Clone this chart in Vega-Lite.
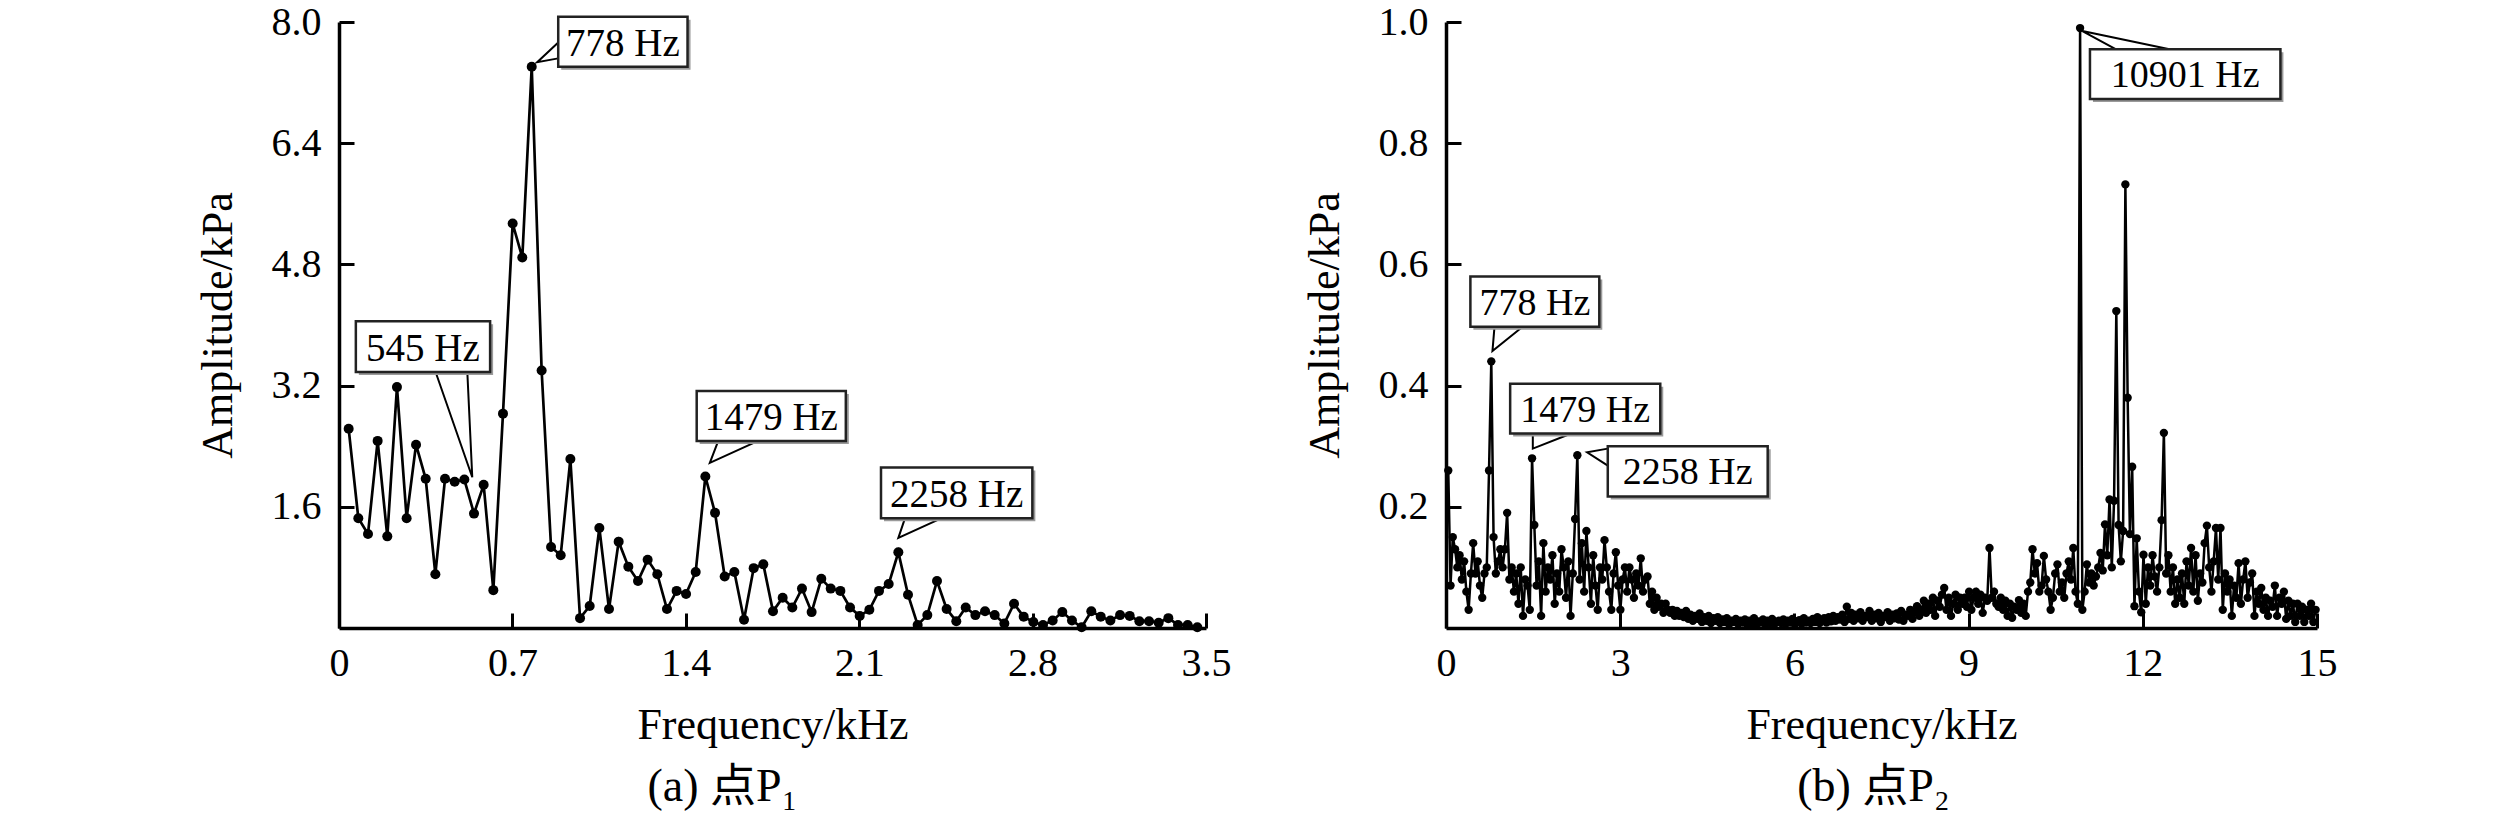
{
  "$schema": "https://vega.github.io/schema/vega-lite/v6.json",
  "padding": {"left": 196, "top": 2, "right": 5, "bottom": 5},
  "background": "white",
  "bounds": "flush",
  "spacing": 240,
  "config": {
    "view": {"stroke": null},
    "font": "Liberation Serif",
    "axis": {
      "grid": false,
      "domainColor": "black",
      "domainWidth": 3.5,
      "tickColor": "black",
      "tickWidth": 3,
      "tickSize": -15,
      "labelFont": "Liberation Serif",
      "labelFontSize": 40,
      "labelColor": "black",
      "labelFlush": false,
      "labelOverlap": false,
      "titleFont": "Liberation Serif",
      "titleFontSize": 44,
      "titleFontWeight": "normal",
      "titleColor": "black"
    },
    "axisX": {"labelPadding": 30, "titlePadding": 20},
    "axisY": {"labelPadding": 33, "titlePadding": 31},
    "title": {"font": "Liberation Serif, Noto Sans CJK SC", "fontSize": 46, "fontWeight": "normal", "color": "black"}
  },
  "datasets": {
    "a": [
      {"f":0.039,"a":2.63},{"f":0.078,"a":1.45},{"f":0.117,"a":1.24},{"f":0.156,"a":2.47},{"f":0.195,"a":1.21},
      {"f":0.234,"a":3.18},{"f":0.273,"a":1.45},{"f":0.311,"a":2.42},{"f":0.350,"a":1.97},{"f":0.389,"a":0.71},
      {"f":0.428,"a":1.97},{"f":0.467,"a":1.93},{"f":0.506,"a":1.96},{"f":0.545,"a":1.51},{"f":0.584,"a":1.89},
      {"f":0.623,"a":0.50},{"f":0.662,"a":2.83},{"f":0.701,"a":5.34},{"f":0.740,"a":4.89},{"f":0.778,"a":7.41},
      {"f":0.818,"a":3.40},{"f":0.856,"a":1.07},{"f":0.895,"a":0.96},{"f":0.934,"a":2.23},{"f":0.973,"a":0.13},
      {"f":1.012,"a":0.29},{"f":1.051,"a":1.32},{"f":1.090,"a":0.25},{"f":1.129,"a":1.14},{"f":1.168,"a":0.81},
      {"f":1.207,"a":0.62},{"f":1.246,"a":0.90},{"f":1.285,"a":0.71},{"f":1.324,"a":0.25},{"f":1.363,"a":0.49},
      {"f":1.401,"a":0.45},{"f":1.440,"a":0.74},{"f":1.479,"a":2.00},{"f":1.518,"a":1.52},{"f":1.557,"a":0.68},
      {"f":1.596,"a":0.74},{"f":1.635,"a":0.11},{"f":1.674,"a":0.79},{"f":1.713,"a":0.84},{"f":1.752,"a":0.22},
      {"f":1.791,"a":0.40},{"f":1.830,"a":0.27},{"f":1.869,"a":0.52},{"f":1.908,"a":0.21},{"f":1.947,"a":0.65},
      {"f":1.985,"a":0.52},{"f":2.024,"a":0.49},{"f":2.063,"a":0.27},{"f":2.102,"a":0.16},{"f":2.141,"a":0.24},
      {"f":2.180,"a":0.49},{"f":2.219,"a":0.58},{"f":2.258,"a":1.00},{"f":2.297,"a":0.44},{"f":2.336,"a":0.04},
      {"f":2.375,"a":0.17},{"f":2.414,"a":0.62},{"f":2.453,"a":0.25},{"f":2.492,"a":0.09},{"f":2.530,"a":0.27},
      {"f":2.569,"a":0.17},{"f":2.608,"a":0.22},{"f":2.647,"a":0.17},{"f":2.686,"a":0.06},{"f":2.725,"a":0.32},
      {"f":2.764,"a":0.15},{"f":2.803,"a":0.08},{"f":2.842,"a":0.04},{"f":2.881,"a":0.10},{"f":2.920,"a":0.21},
      {"f":2.959,"a":0.10},{"f":2.998,"a":0.01},{"f":3.037,"a":0.22},{"f":3.075,"a":0.15},{"f":3.114,"a":0.10},
      {"f":3.153,"a":0.17},{"f":3.192,"a":0.16},{"f":3.231,"a":0.09},{"f":3.270,"a":0.09},{"f":3.309,"a":0.07},
      {"f":3.348,"a":0.13},{"f":3.387,"a":0.04},{"f":3.426,"a":0.04},{"f":3.465,"a":0.01}
    ],
    "b": [
      {"f":0.039,"a":0.26},{"f":0.078,"a":0.07},{"f":0.117,"a":0.15},{"f":0.156,"a":0.13},{"f":0.195,"a":0.10},
      {"f":0.234,"a":0.12},{"f":0.273,"a":0.08},{"f":0.312,"a":0.11},{"f":0.351,"a":0.06},{"f":0.39,"a":0.03},
      {"f":0.429,"a":0.09},{"f":0.468,"a":0.14},{"f":0.507,"a":0.09},{"f":0.546,"a":0.11},{"f":0.585,"a":0.07},
      {"f":0.624,"a":0.05},{"f":0.663,"a":0.09},{"f":0.702,"a":0.10},{"f":0.741,"a":0.26},{"f":0.78,"a":0.44},
      {"f":0.819,"a":0.15},{"f":0.858,"a":0.09},{"f":0.897,"a":0.11},{"f":0.936,"a":0.13},{"f":0.975,"a":0.10},
      {"f":1.014,"a":0.13},{"f":1.053,"a":0.19},{"f":1.092,"a":0.08},{"f":1.131,"a":0.10},{"f":1.17,"a":0.06},
      {"f":1.209,"a":0.09},{"f":1.248,"a":0.04},{"f":1.287,"a":0.10},{"f":1.326,"a":0.02},{"f":1.365,"a":0.08},
      {"f":1.404,"a":0.07},{"f":1.443,"a":0.03},{"f":1.482,"a":0.28},{"f":1.521,"a":0.17},{"f":1.56,"a":0.07},
      {"f":1.599,"a":0.11},{"f":1.638,"a":0.02},{"f":1.677,"a":0.14},{"f":1.716,"a":0.06},{"f":1.755,"a":0.10},
      {"f":1.794,"a":0.08},{"f":1.833,"a":0.12},{"f":1.872,"a":0.04},{"f":1.911,"a":0.09},{"f":1.95,"a":0.06},
      {"f":1.989,"a":0.13},{"f":2.028,"a":0.10},{"f":2.067,"a":0.05},{"f":2.106,"a":0.11},{"f":2.145,"a":0.02},
      {"f":2.184,"a":0.09},{"f":2.223,"a":0.18},{"f":2.262,"a":0.285},{"f":2.301,"a":0.08},{"f":2.34,"a":0.14},
      {"f":2.379,"a":0.06},{"f":2.418,"a":0.16},{"f":2.457,"a":0.10},{"f":2.496,"a":0.04},{"f":2.535,"a":0.12},
      {"f":2.574,"a":0.07},{"f":2.613,"a":0.03},{"f":2.652,"a":0.10},{"f":2.691,"a":0.08},{"f":2.73,"a":0.145},
      {"f":2.769,"a":0.10},{"f":2.808,"a":0.06},{"f":2.847,"a":0.03},{"f":2.886,"a":0.09},{"f":2.925,"a":0.125},
      {"f":2.964,"a":0.07},{"f":3.003,"a":0.03},{"f":3.042,"a":0.08},{"f":3.081,"a":0.10},{"f":3.12,"a":0.06},
      {"f":3.159,"a":0.10},{"f":3.198,"a":0.08},{"f":3.237,"a":0.05},{"f":3.276,"a":0.09},{"f":3.315,"a":0.07},
      {"f":3.354,"a":0.115},{"f":3.393,"a":0.06},{"f":3.432,"a":0.08},{"f":3.471,"a":0.085},{"f":3.51,"a":0.04},
      {"f":3.549,"a":0.06},{"f":3.588,"a":0.03},{"f":3.627,"a":0.05},{"f":3.666,"a":0.035},{"f":3.705,"a":0.04},
      {"f":3.744,"a":0.025},{"f":3.783,"a":0.04},{"f":3.822,"a":0.03},{"f":3.861,"a":0.025},{"f":3.9,"a":0.03},
      {"f":3.939,"a":0.02},{"f":3.978,"a":0.028},{"f":4.017,"a":0.02},{"f":4.056,"a":0.025},{"f":4.095,"a":0.018},
      {"f":4.134,"a":0.028},{"f":4.173,"a":0.015},{"f":4.212,"a":0.022},{"f":4.251,"a":0.012},{"f":4.29,"a":0.02},
      {"f":4.329,"a":0.015},{"f":4.368,"a":0.024},{"f":4.407,"a":0.01},{"f":4.446,"a":0.018},{"f":4.485,"a":0.012},
      {"f":4.524,"a":0.02},{"f":4.563,"a":0.008},{"f":4.602,"a":0.016},{"f":4.641,"a":0.012},{"f":4.68,"a":0.018},
      {"f":4.719,"a":0.008},{"f":4.758,"a":0.014},{"f":4.797,"a":0.01},{"f":4.836,"a":0.016},{"f":4.875,"a":0.006},
      {"f":4.914,"a":0.012},{"f":4.953,"a":0.01},{"f":4.992,"a":0.015},{"f":5.031,"a":0.007},{"f":5.07,"a":0.012},
      {"f":5.109,"a":0.009},{"f":5.148,"a":0.014},{"f":5.187,"a":0.006},{"f":5.226,"a":0.012},{"f":5.265,"a":0.008},
      {"f":5.304,"a":0.016},{"f":5.343,"a":0.005},{"f":5.382,"a":0.011},{"f":5.421,"a":0.009},{"f":5.46,"a":0.014},
      {"f":5.499,"a":0.006},{"f":5.538,"a":0.012},{"f":5.577,"a":0.008},{"f":5.616,"a":0.015},{"f":5.655,"a":0.006},
      {"f":5.694,"a":0.01},{"f":5.733,"a":0.012},{"f":5.772,"a":0.008},{"f":5.811,"a":0.014},{"f":5.85,"a":0.007},
      {"f":5.889,"a":0.012},{"f":5.928,"a":0.009},{"f":5.967,"a":0.015},{"f":6.006,"a":0.006},{"f":6.045,"a":0.011},
      {"f":6.084,"a":0.013},{"f":6.123,"a":0.007},{"f":6.162,"a":0.016},{"f":6.201,"a":0.009},{"f":6.24,"a":0.012},
      {"f":6.279,"a":0.008},{"f":6.318,"a":0.015},{"f":6.357,"a":0.01},{"f":6.396,"a":0.018},{"f":6.435,"a":0.008},
      {"f":6.474,"a":0.013},{"f":6.513,"a":0.016},{"f":6.552,"a":0.009},{"f":6.591,"a":0.018},{"f":6.63,"a":0.011},
      {"f":6.669,"a":0.02},{"f":6.708,"a":0.012},{"f":6.747,"a":0.018},{"f":6.786,"a":0.014},{"f":6.825,"a":0.022},
      {"f":6.864,"a":0.01},{"f":6.903,"a":0.035},{"f":6.942,"a":0.015},{"f":6.981,"a":0.025},{"f":7.02,"a":0.012},
      {"f":7.059,"a":0.022},{"f":7.098,"a":0.016},{"f":7.137,"a":0.026},{"f":7.176,"a":0.012},{"f":7.215,"a":0.02},
      {"f":7.254,"a":0.018},{"f":7.293,"a":0.028},{"f":7.332,"a":0.012},{"f":7.371,"a":0.022},{"f":7.41,"a":0.016},
      {"f":7.449,"a":0.025},{"f":7.488,"a":0.01},{"f":7.527,"a":0.02},{"f":7.566,"a":0.018},{"f":7.605,"a":0.026},
      {"f":7.644,"a":0.012},{"f":7.683,"a":0.022},{"f":7.722,"a":0.016},{"f":7.761,"a":0.024},{"f":7.8,"a":0.014},
      {"f":7.839,"a":0.028},{"f":7.878,"a":0.012},{"f":7.917,"a":0.022},{"f":7.956,"a":0.02},{"f":7.995,"a":0.03},
      {"f":8.034,"a":0.015},{"f":8.073,"a":0.026},{"f":8.112,"a":0.036},{"f":8.151,"a":0.02},{"f":8.19,"a":0.03},
      {"f":8.229,"a":0.045},{"f":8.268,"a":0.025},{"f":8.307,"a":0.04},{"f":8.346,"a":0.03},{"f":8.385,"a":0.05},
      {"f":8.424,"a":0.02},{"f":8.463,"a":0.045},{"f":8.502,"a":0.035},{"f":8.541,"a":0.055},{"f":8.58,"a":0.066},
      {"f":8.619,"a":0.03},{"f":8.658,"a":0.05},{"f":8.697,"a":0.02},{"f":8.736,"a":0.04},{"f":8.775,"a":0.055},
      {"f":8.814,"a":0.03},{"f":8.853,"a":0.05},{"f":8.892,"a":0.04},{"f":8.931,"a":0.05},{"f":8.97,"a":0.035},
      {"f":9.009,"a":0.06},{"f":9.048,"a":0.03},{"f":9.087,"a":0.05},{"f":9.126,"a":0.06},{"f":9.165,"a":0.04},
      {"f":9.204,"a":0.055},{"f":9.243,"a":0.025},{"f":9.282,"a":0.05},{"f":9.321,"a":0.045},{"f":9.36,"a":0.132},
      {"f":9.399,"a":0.05},{"f":9.438,"a":0.06},{"f":9.477,"a":0.04},{"f":9.516,"a":0.035},{"f":9.555,"a":0.05},
      {"f":9.594,"a":0.03},{"f":9.633,"a":0.045},{"f":9.672,"a":0.02},{"f":9.711,"a":0.04},{"f":9.75,"a":0.017},
      {"f":9.789,"a":0.035},{"f":9.828,"a":0.03},{"f":9.867,"a":0.046},{"f":9.906,"a":0.025},{"f":9.945,"a":0.04},
      {"f":9.984,"a":0.02},{"f":10.023,"a":0.06},{"f":10.062,"a":0.075},{"f":10.101,"a":0.13},{"f":10.14,"a":0.09},
      {"f":10.179,"a":0.107},{"f":10.218,"a":0.06},{"f":10.257,"a":0.07},{"f":10.296,"a":0.119},{"f":10.335,"a":0.08},
      {"f":10.374,"a":0.06},{"f":10.413,"a":0.03},{"f":10.452,"a":0.05},{"f":10.491,"a":0.09},{"f":10.53,"a":0.105},
      {"f":10.569,"a":0.06},{"f":10.608,"a":0.075},{"f":10.647,"a":0.05},{"f":10.686,"a":0.09},{"f":10.725,"a":0.11},
      {"f":10.764,"a":0.08},{"f":10.803,"a":0.132},{"f":10.842,"a":0.06},{"f":10.881,"a":0.04},{"f":10.92,"a":0.99},
      {"f":10.959,"a":0.03},{"f":10.998,"a":0.06},{"f":11.037,"a":0.105},{"f":11.076,"a":0.075},{"f":11.115,"a":0.09},
      {"f":11.154,"a":0.07},{"f":11.193,"a":0.085},{"f":11.232,"a":0.10},{"f":11.271,"a":0.124},{"f":11.31,"a":0.095},
      {"f":11.349,"a":0.171},{"f":11.388,"a":0.12},{"f":11.427,"a":0.212},{"f":11.466,"a":0.10},{"f":11.505,"a":0.21},
      {"f":11.544,"a":0.523},{"f":11.583,"a":0.17},{"f":11.622,"a":0.11},{"f":11.661,"a":0.16},{"f":11.7,"a":0.732},
      {"f":11.739,"a":0.38},{"f":11.778,"a":0.155},{"f":11.817,"a":0.266},{"f":11.856,"a":0.036},{"f":11.895,"a":0.148},
      {"f":11.934,"a":0.06},{"f":11.973,"a":0.026},{"f":12.012,"a":0.121},{"f":12.051,"a":0.04},{"f":12.09,"a":0.10},
      {"f":12.129,"a":0.07},{"f":12.168,"a":0.12},{"f":12.207,"a":0.085},{"f":12.246,"a":0.06},{"f":12.285,"a":0.10},
      {"f":12.324,"a":0.178},{"f":12.363,"a":0.322},{"f":12.402,"a":0.09},{"f":12.441,"a":0.12},{"f":12.48,"a":0.06},
      {"f":12.519,"a":0.10},{"f":12.558,"a":0.04},{"f":12.597,"a":0.08},{"f":12.636,"a":0.05},{"f":12.675,"a":0.09},
      {"f":12.714,"a":0.04},{"f":12.753,"a":0.11},{"f":12.792,"a":0.07},{"f":12.831,"a":0.132},{"f":12.87,"a":0.06},
      {"f":12.909,"a":0.12},{"f":12.948,"a":0.045},{"f":12.987,"a":0.09},{"f":13.026,"a":0.075},{"f":13.065,"a":0.14},
      {"f":13.104,"a":0.169},{"f":13.143,"a":0.10},{"f":13.182,"a":0.06},{"f":13.221,"a":0.11},{"f":13.26,"a":0.165},
      {"f":13.299,"a":0.08},{"f":13.338,"a":0.165},{"f":13.377,"a":0.03},{"f":13.416,"a":0.09},{"f":13.455,"a":0.06},
      {"f":13.494,"a":0.08},{"f":13.533,"a":0.02},{"f":13.572,"a":0.07},{"f":13.611,"a":0.05},{"f":13.65,"a":0.107},
      {"f":13.689,"a":0.04},{"f":13.728,"a":0.08},{"f":13.767,"a":0.11},{"f":13.806,"a":0.05},{"f":13.845,"a":0.075},
      {"f":13.884,"a":0.09},{"f":13.923,"a":0.02},{"f":13.962,"a":0.06},{"f":14.001,"a":0.04},{"f":14.04,"a":0.066},
      {"f":14.079,"a":0.03},{"f":14.118,"a":0.05},{"f":14.157,"a":0.02},{"f":14.196,"a":0.045},{"f":14.235,"a":0.035},
      {"f":14.274,"a":0.07},{"f":14.313,"a":0.02},{"f":14.352,"a":0.05},{"f":14.391,"a":0.04},{"f":14.43,"a":0.06},
      {"f":14.469,"a":0.015},{"f":14.508,"a":0.045},{"f":14.547,"a":0.02},{"f":14.586,"a":0.04},{"f":14.625,"a":0.01},
      {"f":14.664,"a":0.04},{"f":14.703,"a":0.02},{"f":14.742,"a":0.035},{"f":14.781,"a":0.01},{"f":14.82,"a":0.03},
      {"f":14.859,"a":0.02},{"f":14.898,"a":0.04},{"f":14.937,"a":0.01},{"f":14.976,"a":0.03}
    ],
    "boxA": [
      {"x1":0.885,"x2":1.407,"y1":7.41,"y2":8.07,"tx":1.146,"ty":7.74,"label":"778 Hz"},
      {"x1":0.068,"x2":0.61,"y1":3.38,"y2":4.05,"tx":0.339,"ty":3.715,"label":"545 Hz"},
      {"x1":1.444,"x2":2.046,"y1":2.47,"y2":3.13,"tx":1.745,"ty":2.8,"label":"1479 Hz"},
      {"x1":2.188,"x2":2.799,"y1":1.45,"y2":2.12,"tx":2.4935,"ty":1.785,"label":"2258 Hz"}
    ],
    "tailA": [
      {"g":"778","o":1,"x":0.885,"y":7.73},{"g":"778","o":2,"x":0.8,"y":7.47},{"g":"778","o":3,"x":0.885,"y":7.52},
      {"g":"545","o":1,"x":0.39,"y":3.38},{"g":"545","o":2,"x":0.538,"y":1.99},{"g":"545","o":3,"x":0.518,"y":3.38},
      {"g":"1479","o":1,"x":1.531,"y":2.47},{"g":"1479","o":2,"x":1.497,"y":2.18},{"g":"1479","o":3,"x":1.692,"y":2.47},
      {"g":"2258","o":1,"x":2.285,"y":1.45},{"g":"2258","o":2,"x":2.258,"y":1.19},{"g":"2258","o":3,"x":2.433,"y":1.45}
    ],
    "boxB": [
      {"x1":0.42,"x2":2.64,"y1":0.497,"y2":0.58,"tx":1.53,"ty":0.5385,"label":"778 Hz"},
      {"x1":1.105,"x2":3.69,"y1":0.321,"y2":0.403,"tx":2.3975,"ty":0.362,"label":"1479 Hz"},
      {"x1":2.786,"x2":5.54,"y1":0.217,"y2":0.3,"tx":4.163,"ty":0.2585,"label":"2258 Hz"},
      {"x1":11.09,"x2":14.37,"y1":0.873,"y2":0.955,"tx":12.73,"ty":0.914,"label":"10901 Hz"}
    ],
    "tailB": [
      {"g":"778","o":1,"x":0.835,"y":0.497},{"g":"778","o":2,"x":0.8,"y":0.457},{"g":"778","o":3,"x":1.32,"y":0.497},
      {"g":"1479","o":1,"x":1.495,"y":0.321},{"g":"1479","o":2,"x":1.495,"y":0.296},{"g":"1479","o":3,"x":2.156,"y":0.321},
      {"g":"2258","o":1,"x":2.786,"y":0.296},{"g":"2258","o":2,"x":2.43,"y":0.29},{"g":"2258","o":3,"x":2.786,"y":0.268},
      {"g":"10901","o":1,"x":11.54,"y":0.955},{"g":"10901","o":2,"x":10.96,"y":0.985},{"g":"10901","o":3,"x":12.46,"y":0.955}
    ]
  },
  "hconcat": [
    {
      "width": 867,
      "height": 606,
      "title": {"text": "(a) 点P₁", "orient": "bottom", "offset": 18, "dx": -50},
      "layer": [
        {
          "data": {"name": "a"},
          "mark": {"type": "line", "color": "black", "strokeWidth": 2.7, "point": {"filled": true, "size": 100, "color": "black"}},
          "encoding": {
            "x": {"field": "f", "type": "quantitative", "title": "Frequency/kHz", "scale": {"domain": [0, 3.5], "nice": false}, "axis": {"values": [0, 0.7, 1.4, 2.1, 2.8, 3.5], "format": ".1~f"}},
            "y": {"field": "a", "type": "quantitative", "title": "Amplitude/kPa", "scale": {"domain": [0, 8], "nice": false}, "axis": {"values": [1.6, 3.2, 4.8, 6.4, 8.0], "format": ".1f"}}
          }
        },
        {
          "data": {"name": "tailA"},
          "mark": {"type": "line", "color": "black", "strokeWidth": 2},
          "encoding": {
            "x": {"field": "x", "type": "quantitative", "scale": {"domain": [0, 3.5], "nice": false}},
            "y": {"field": "y", "type": "quantitative", "scale": {"domain": [0, 8], "nice": false}},
            "detail": {"field": "g"},
            "order": {"field": "o"}
          }
        },
        {
          "data": {"name": "boxA"},
          "mark": {"type": "rect", "fill": "#9a9a9a", "xOffset": 3, "x2Offset": 3, "yOffset": 3, "y2Offset": 3},
          "encoding": {
            "x": {"field": "x1", "type": "quantitative", "scale": {"domain": [0, 3.5], "nice": false}},
            "x2": {"field": "x2"},
            "y": {"field": "y1", "type": "quantitative", "scale": {"domain": [0, 8], "nice": false}},
            "y2": {"field": "y2"}
          }
        },
        {
          "data": {"name": "boxA"},
          "mark": {"type": "rect", "fill": "white", "stroke": "#222222", "strokeWidth": 2.5},
          "encoding": {
            "x": {"field": "x1", "type": "quantitative", "scale": {"domain": [0, 3.5], "nice": false}},
            "x2": {"field": "x2"},
            "y": {"field": "y1", "type": "quantitative", "scale": {"domain": [0, 8], "nice": false}},
            "y2": {"field": "y2"}
          }
        },
        {
          "data": {"name": "boxA"},
          "mark": {"type": "text", "font": "Liberation Serif", "fontSize": 39, "color": "black", "baseline": "middle", "align": "center", "dy": 2},
          "encoding": {
            "x": {"field": "tx", "type": "quantitative", "scale": {"domain": [0, 3.5], "nice": false}},
            "y": {"field": "ty", "type": "quantitative", "scale": {"domain": [0, 8], "nice": false}},
            "text": {"field": "label"}
          }
        }
      ]
    },
    {
      "width": 871,
      "height": 606,
      "title": {"text": "(b) 点P₂", "orient": "bottom", "offset": 18, "dx": -8},
      "layer": [
        {
          "data": {"name": "b"},
          "mark": {"type": "line", "color": "black", "strokeWidth": 2.5, "point": {"filled": true, "size": 70, "color": "black"}},
          "encoding": {
            "x": {"field": "f", "type": "quantitative", "title": "Frequency/kHz", "scale": {"domain": [0, 15], "nice": false}, "axis": {"values": [0, 3, 6, 9, 12, 15], "format": "d"}},
            "y": {"field": "a", "type": "quantitative", "title": "Amplitude/kPa", "scale": {"domain": [0, 1], "nice": false}, "axis": {"values": [0.2, 0.4, 0.6, 0.8, 1.0], "format": ".1f"}}
          }
        },
        {
          "data": {"name": "tailB"},
          "mark": {"type": "line", "color": "black", "strokeWidth": 2},
          "encoding": {
            "x": {"field": "x", "type": "quantitative", "scale": {"domain": [0, 15], "nice": false}},
            "y": {"field": "y", "type": "quantitative", "scale": {"domain": [0, 1], "nice": false}},
            "detail": {"field": "g"},
            "order": {"field": "o"}
          }
        },
        {
          "data": {"name": "boxB"},
          "mark": {"type": "rect", "fill": "#9a9a9a", "xOffset": 3, "x2Offset": 3, "yOffset": 3, "y2Offset": 3},
          "encoding": {
            "x": {"field": "x1", "type": "quantitative", "scale": {"domain": [0, 15], "nice": false}},
            "x2": {"field": "x2"},
            "y": {"field": "y1", "type": "quantitative", "scale": {"domain": [0, 1], "nice": false}},
            "y2": {"field": "y2"}
          }
        },
        {
          "data": {"name": "boxB"},
          "mark": {"type": "rect", "fill": "white", "stroke": "#222222", "strokeWidth": 2.5},
          "encoding": {
            "x": {"field": "x1", "type": "quantitative", "scale": {"domain": [0, 15], "nice": false}},
            "x2": {"field": "x2"},
            "y": {"field": "y1", "type": "quantitative", "scale": {"domain": [0, 1], "nice": false}},
            "y2": {"field": "y2"}
          }
        },
        {
          "data": {"name": "boxB"},
          "mark": {"type": "text", "font": "Liberation Serif", "fontSize": 38, "color": "black", "baseline": "middle", "align": "center", "dy": 2},
          "encoding": {
            "x": {"field": "tx", "type": "quantitative", "scale": {"domain": [0, 15], "nice": false}},
            "y": {"field": "ty", "type": "quantitative", "scale": {"domain": [0, 1], "nice": false}},
            "text": {"field": "label"}
          }
        }
      ]
    }
  ]
}
